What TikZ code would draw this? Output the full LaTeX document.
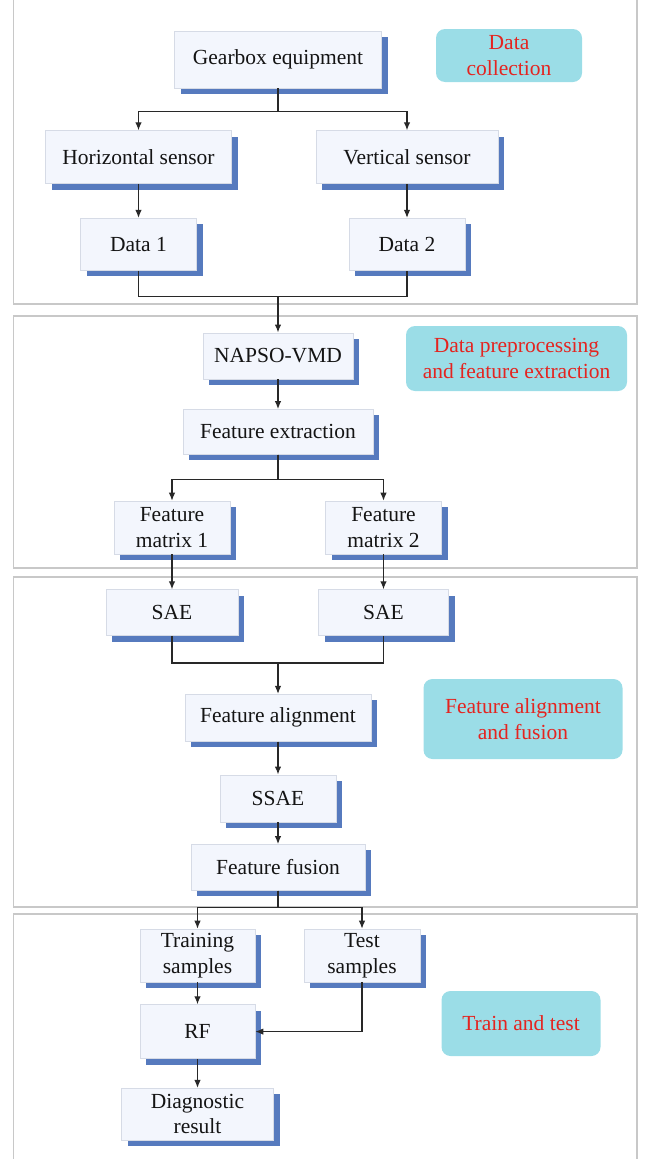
\documentclass[tikz,border=0pt]{standalone}
\usepackage{fontspec}
\setmainfont{Liberation Serif}
\usepackage{xcolor}
\usetikzlibrary{arrows.meta,positioning,shadows}
\definecolor{facefill}{RGB}{243,246,253}
\definecolor{faceline}{RGB}{214,219,230}
\definecolor{shadowblue}{RGB}{86,122,190}
\definecolor{tagfill}{RGB}{155,221,231}
\definecolor{tagtext}{RGB}{228,36,32}
\definecolor{framegray}{RGB}{200,200,200}
\definecolor{linegray}{RGB}{40,40,40}

\begin{document}
\begin{tikzpicture}[
		x=1pt, y=1pt,
		>={Latex[length=8pt,width=6.5pt]},
		every node/.style = {font=\fontsize{21.5}{25.5}\selectfont},
		block/.style = {draw=faceline, fill=facefill, line width=0.6pt, minimum height=47pt, inner sep=2pt, align=center, text=black!92,
			drop shadow={shadow xshift=6pt, shadow yshift=-6pt, fill=shadowblue, opacity=1}},
		tag/.style = {fill=tagfill, rounded corners=9pt, text=tagtext, align=center, inner sep=2pt},
		frame/.style = {draw=framegray, line width=1.2pt},
		link/.style = {draw=linegray, line width=1.2pt}
		]
		\clip (0,0) rectangle (645,-1159);
		
		% Frames --------------------------------------------------------
		\draw[frame] (13.5,10) rectangle (637,-304);
		\draw[frame] (13.5,-316) rectangle (637,-568);
		\draw[frame] (13.5,-577) rectangle (637,-907);
		\draw[frame] (13.5,-914) rectangle (637,-1170);
		
		% Data collection -----------------------------------------------
		\node[block, minimum width=207pt, minimum height=57pt] (gear) at (278,-59.5) {Gearbox equipment};
		\node[block, minimum width=186pt, minimum height=53pt, below=42pt of gear, xshift=-139.5pt] (hsens) {Horizontal sensor};
		\node[block, minimum width=182pt, minimum height=53pt, below=42pt of gear, xshift=129pt] (vsens) {Vertical sensor};
		\node[block, minimum width=116pt, minimum height=52pt, below=34pt of hsens] (data1) {Data 1};
		\node[block, minimum width=116pt, minimum height=52pt, below=34pt of vsens] (data2) {Data 2};
		\coordinate[below=26pt of data1] (fork1);
		
		% Preprocessing -------------------------------------------------
		\node[block, minimum width=150pt, minimum height=46pt, below=62pt of data1, xshift=139.5pt] (napso) {NAPSO-VMD};
		\node[block, minimum width=190pt, minimum height=45pt, below=30pt of napso] (featext) {Feature extraction};
		\node[block, minimum width=116pt, minimum height=53pt, below=46pt of featext, xshift=-106pt] (fmat1) {Feature\\matrix 1};
		\node[block, minimum width=116pt, minimum height=53pt, below=46pt of featext, xshift=105.5pt] (fmat2) {Feature\\matrix 2};
		
		% Alignment and fusion ------------------------------------------
		\node[block, minimum width=132pt, minimum height=46pt, below=35pt of fmat1] (sae1) {SAE};
		\node[block, minimum width=130pt, minimum height=46pt, below=35pt of fmat2] (sae2) {SAE};
		\coordinate[below=27pt of sae1] (fork2);
		\node[block, minimum width=186pt, below=58pt of sae1, xshift=106pt] (falign) {Feature alignment};
		\node[block, minimum width=116pt, below=33pt of falign] (ssae) {SSAE};
		\node[block, minimum width=174pt, minimum height=46pt, below=22pt of ssae] (ffusion) {Feature fusion};
		
		% Train and test ------------------------------------------------
		\node[block, minimum width=115pt, minimum height=53pt, below=38pt of ffusion, xshift=-80.5pt] (train) {Training\\samples};
		\node[block, minimum width=116pt, minimum height=53pt, below=38pt of ffusion, xshift=84pt] (test) {Test\\samples};
		\node[block, minimum width=115pt, minimum height=54pt, below=22pt of train] (rf) {RF};
		\node[block, minimum width=152pt, minimum height=52pt, below=29pt of rf] (diag) {Diagnostic\\result};
		
		% Stage tags ----------------------------------------------------
		\node[tag, minimum width=146pt, minimum height=53pt] (tag1) at (509,-55.5) {Data\\collection};
		\node[tag, minimum width=221pt, minimum height=65pt] (tag2) at (516.5,-358.5) {Data preprocessing\\and feature extraction};
		\node[tag, minimum width=199pt, minimum height=80pt] (tag3) at (523,-719) {Feature alignment\\and fusion};
		\node[tag, minimum width=159pt, minimum height=65pt] (tag4) at (521,-1023.5) {Train and test};
		
		% Arrows --------------------------------------------------------
		\draw[link,->] (gear.south) -- ++(0,-23pt) -| (hsens.north);
		\draw[link,->] (gear.south) -- ++(0,-23pt) -| (vsens.north);
		\draw[link,->] (hsens) -- (data1);
		\draw[link,->] (vsens) -- (data2);
		\draw[link] (data1.south) |- (fork1 -| data2.south) -- (data2.south);
		\draw[link,->] (fork1 -| napso.north) -- (napso.north);
		\draw[link,->] (napso) -- (featext);
		\draw[link,->] (featext.south) -- ++(0,-25pt) -| (fmat1.north);
		\draw[link,->] (featext.south) -- ++(0,-25pt) -| (fmat2.north);
		\draw[link,->] (fmat1) -- (sae1);
		\draw[link,->] (fmat2) -- (sae2);
		\draw[link] (sae1.south) |- (fork2 -| sae2.south) -- (sae2.south);
		\draw[link,->] (fork2 -| falign.north) -- (falign.north);
		\draw[link,->] (falign) -- (ssae);
		\draw[link,->] (ssae) -- (ffusion);
		\draw[link,->] (ffusion.south) -- ++(0,-17pt) -| (train.north);
		\draw[link,->] (ffusion.south) -- ++(0,-17pt) -| (test.north);
		\draw[link,->] (train) -- (rf);
		\draw[link,->] (test.south) |- (rf.east);
		\draw[link,->] (rf) -- (diag);
	\end{tikzpicture}
\end{document}
